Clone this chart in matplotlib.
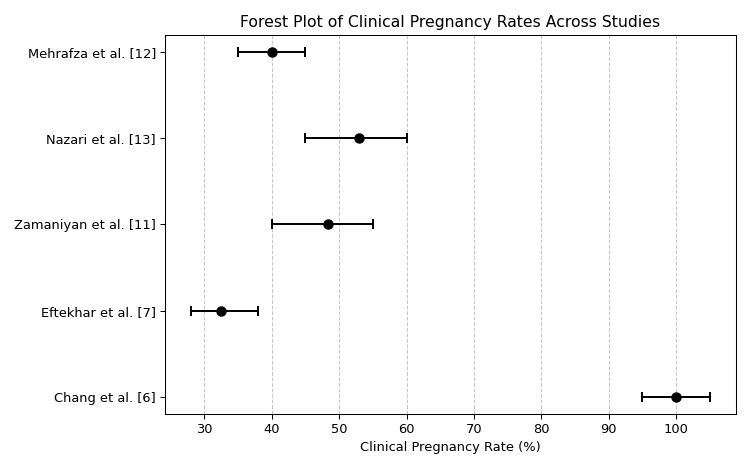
import numpy as np
import matplotlib
matplotlib.use("Agg")
import matplotlib.pyplot as plt

# DATA
studies = ["Mehrafza et al. [12]", "Nazari et al. [13]", "Zamaniyan et al. [11]",
           "Eftekhar et al. [7]", "Chang et al. [6]"]
rates = [40, 53, 48.3, 32.5, 100]
lower = [35, 45, 40, 28, 95]
upper = [45, 60, 55, 38, 105]

rates = np.array(rates)
err = [rates - np.array(lower), np.array(upper) - rates]
y = np.arange(len(studies))[::-1]

# PLOT
fig, ax = plt.subplots(figsize=(8, 5.003), dpi=93.75)
ax.errorbar(rates, y, xerr=err, fmt='o', color='black', ecolor='black',
            capsize=4, markersize=7, elinewidth=1.5, capthick=1.5)
ax.set_yticks(y)
ax.set_yticklabels(studies)
ax.set_xlabel('Clinical Pregnancy Rate (%)')
ax.set_title('Forest Plot of Clinical Pregnancy Rates Across Studies')
ax.grid(axis='x', linestyle='--', alpha=0.7)

fig.subplots_adjust(left=0.22, right=0.981, top=0.926, bottom=0.117)
fig.savefig('out.png')
